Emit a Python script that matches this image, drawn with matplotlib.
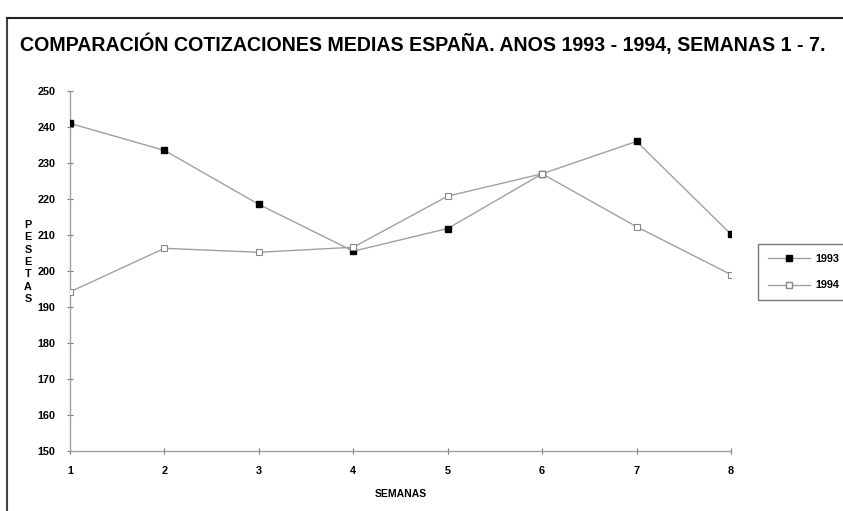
import matplotlib.pyplot as plt
from matplotlib.lines import Line2D

semanas = [1, 2, 3, 4, 5, 6, 7, 8]
precios_1993 = [241.0, 233.5, 218.5, 205.5, 211.8, 227.0, 236.0, 210.2]
precios_1994 = [194.2, 206.3, 205.2, 206.6, 220.8, 227.0, 212.3, 199.0]
yticks = [150, 160, 170, 180, 190, 200, 210, 220, 230, 240, 250]

titulo = "COMPARACIÓN COTIZACIONES MEDIAS ESPAÑA. ANOS 1993 - 1994, SEMANAS 1 - 7."

plt.rcParams['font.family'] = ['Liberation Sans', 'DejaVu Sans']

fig = plt.figure(figsize=(8.43, 5.11), dpi=100)
ax = fig.add_axes([70/843, 1-451/511, 661/843, 360/511])

gris = '#a0a0a0'
ax.plot(semanas, precios_1993, color=gris, lw=1.0, marker='s', ms=4,
        mfc='black', mec='black', zorder=3)
ax.plot(semanas, precios_1994, color=gris, lw=1.0, marker='s', ms=5,
        mfc='white', mec='#888888', mew=0.8, zorder=3)

ax.set_xlim(1, 8)
ax.set_ylim(150, 250)
ax.set_xticks(semanas)
ax.set_yticks(yticks)
ax.tick_params(axis='both', direction='inout', length=5, width=0.8, color='#777777',
               labelsize=7.8, pad=8)
for lbl in ax.get_xticklabels() + ax.get_yticklabels():
    lbl.set_fontweight('bold')
for s in ['top', 'right']:
    ax.spines[s].set_visible(False)
for s in ['left', 'bottom']:
    ax.spines[s].set_color(gris)
    ax.spines[s].set_linewidth(1.0)

ax.set_xlabel("SEMANAS", fontsize=7.5, fontweight='bold', labelpad=10)

# etiqueta vertical letra a letra
fig.text(28/843, 1-262/511, "P\nE\nS\nE\nT\nA\nS", fontsize=7.8, fontweight='bold',
         ha='center', va='center', linespacing=1.3)

fig.text(20/843, 1-44/511, titulo, fontsize=14.1, fontweight='bold', ha='left', va='center')

# marco de la figura
fig.add_artist(Line2D([7/843, 7/843], [0, 1-18/511], transform=fig.transFigure,
                      color='#444444', lw=1.5))
fig.add_artist(Line2D([7/843, 1], [1-18/511, 1-18/511], transform=fig.transFigure,
                      color='#222222', lw=1.5))

# leyenda
h1 = Line2D([], [], color=gris, lw=1.0, marker='s', ms=4, mfc='black', mec='black')
h2 = Line2D([], [], color=gris, lw=1.0, marker='s', ms=5, mfc='white', mec='#888888')
leg = fig.legend([h1, h2], ['1993', '1994'], loc='upper left',
                 bbox_to_anchor=(753/843, 1-239/511), frameon=True, fancybox=False,
                 prop={'size': 7.8, 'weight': 'bold'},
                 handlelength=3.9, borderpad=0.9, labelspacing=1.5, handletextpad=0.5)
leg.get_frame().set_edgecolor('#555555')
leg.get_frame().set_linewidth(1.0)

fig.savefig('out.png', dpi=100)
